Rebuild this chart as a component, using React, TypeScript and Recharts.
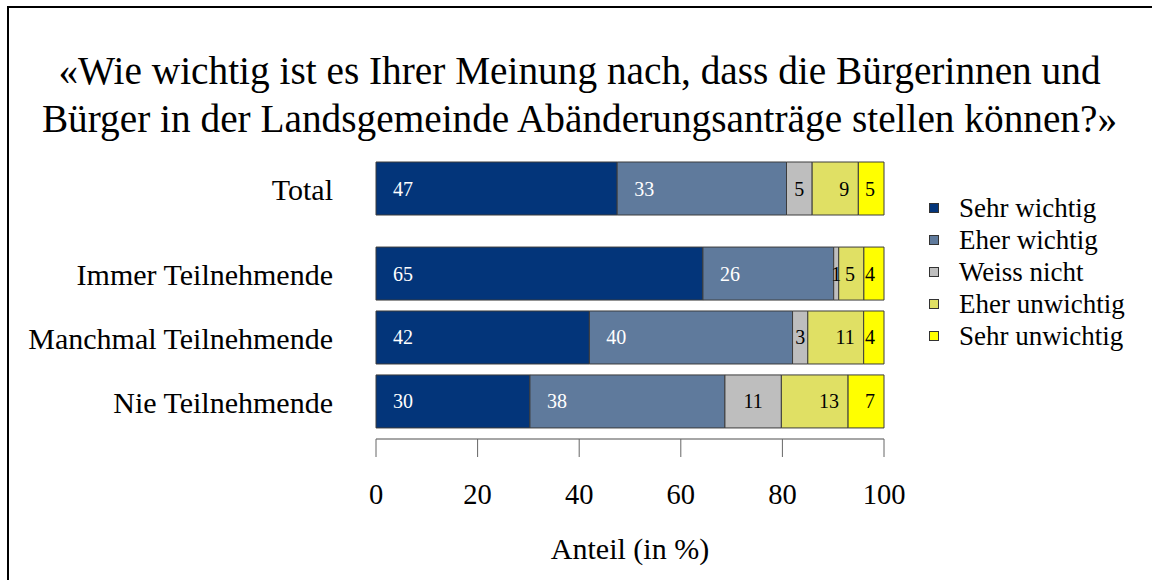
import React from 'react';
import { BarChart, Bar, XAxis, YAxis, Legend, LabelList } from 'recharts';

const FONT = '"Liberation Serif", "Times New Roman", serif';

const titleLines = [
  '«Wie wichtig ist es Ihrer Meinung nach, dass die Bürgerinnen und',
  'Bürger in der Landsgemeinde Abänderungsanträge stellen können?»',
];
const categories = ['Total', 'Immer Teilnehmende', 'Manchmal Teilnehmende', 'Nie Teilnehmende'];
const sehrWichtig = [47, 65, 42, 30];
const eherWichtig = [33, 26, 40, 38];
const weissNicht = [5, 1, 3, 11];
const eherUnwichtig = [9, 5, 11, 13];
const sehrUnwichtig = [5, 4, 4, 7];
const xTicks = [0, 20, 40, 60, 80, 100];
const xLabel = 'Anteil (in %)';

type Mode = 'start' | 'center' | 'end';
const series: { key: string; name: string; values: number[]; color: string; text: string; mode: Mode }[] = [
  { key: 'sehrWichtig', name: 'Sehr wichtig', values: sehrWichtig, color: '#03357a', text: '#ffffff', mode: 'start' },
  { key: 'eherWichtig', name: 'Eher wichtig', values: eherWichtig, color: '#5f7a9c', text: '#ffffff', mode: 'start' },
  { key: 'weissNicht', name: 'Weiss nicht', values: weissNicht, color: '#bebebe', text: '#000000', mode: 'center' },
  { key: 'eherUnwichtig', name: 'Eher unwichtig', values: eherUnwichtig, color: '#e0e064', text: '#000000', mode: 'end' },
  { key: 'sehrUnwichtig', name: 'Sehr unwichtig', values: sehrUnwichtig, color: '#ffff00', text: '#000000', mode: 'end' },
];

// layout: extra gap between "Total" and the groups
const GROUP_GAP = 0.33;
const rowPos = categories.map((_, i) => i + (i > 0 ? GROUP_GAP : 0));

const data = categories.map((c, i) => {
  const row: Record<string, number | string> = { category: c, pos: rowPos[i] };
  series.forEach((s) => {
    row[s.key] = s.values[i];
  });
  return row;
});

const makeLabel = (values: number[], mode: Mode, color: string) => (props: any) => {
  const { x, y, width, height, index } = props;
  const v = values[index];
  if (v === undefined || v === null) return null;
  let tx = x + width / 2;
  let anchor: 'start' | 'middle' | 'end' = 'middle';
  if (mode === 'start') {
    tx = x + 17;
    anchor = 'start';
  } else if (mode === 'end') {
    tx = x + width - 9;
    anchor = 'end';
  }
  return (
    <text
      x={tx}
      y={y + height / 2}
      dy="0.35em"
      textAnchor={anchor}
      fill={color}
      fontSize={20}
      fontFamily={FONT}
    >
      {v}
    </text>
  );
};

const renderLegend = () => (
  <div style={{ fontFamily: FONT, fontSize: 27, color: '#000' }}>
    {series.map((s) => (
      <div key={s.key} style={{ display: 'flex', alignItems: 'center', height: 32 }}>
        <span
          style={{
            display: 'inline-block',
            width: 10,
            height: 10,
            boxSizing: 'border-box',
            border: '1px solid #333',
            background: s.color,
            marginRight: 20,
          }}
        />
        <span style={{ whiteSpace: 'nowrap' }}>{s.name}</span>
      </div>
    ))}
  </div>
);

const catTick = (v: number) => {
  const i = rowPos.findIndex((p) => Math.abs(p - v) < 1e-6);
  return i >= 0 ? categories[i] : '';
};

export default function App() {
  return (
    <div>
      <div style={{ position: 'fixed', left: 7, top: 6, width: 1145, height: 2, background: '#000', zIndex: 5 }} />
      <div style={{ position: 'fixed', left: 7, top: 6, width: 2, height: 574, background: '#000', zIndex: 5 }} />
      <div
        style={{
          position: 'relative',
          width: 1135,
          height: 564,
          marginLeft: 1,
          background: '#fff',
        }}
      >
        <div
          style={{
            position: 'absolute',
            left: 3,
            top: 39,
            width: 1135,
            textAlign: 'center',
            fontFamily: FONT,
            fontSize: 39.3,
            lineHeight: '48px',
            color: '#000',
            zIndex: 2,
            whiteSpace: 'nowrap',
          }}
        >
          {titleLines.map((l, i) => (
            <div key={i}>{l}</div>
          ))}
        </div>
        <BarChart
          width={1135}
          height={564}
          data={data}
          layout="vertical"
          stackOffset="expand"
          margin={{ top: 149, right: 260, bottom: 0, left: 0 }}
        >
          <XAxis
            type="number"
            domain={[0, 1]}
            ticks={xTicks.map((t) => t / 100)}
            tickFormatter={(v: number) => String(Math.round(v * 100))}
            height={133}
            axisLine={{ stroke: '#888', strokeWidth: 1.5 }}
            tickLine={{ stroke: '#666' }}
            tickSize={18}
            tickMargin={27}
            tick={{ fill: '#000', fontSize: 28.5, fontFamily: FONT }}
            label={{
              value: xLabel,
              position: 'insideBottom',
              offset: 13,
              style: { fill: '#000', fontSize: 30, fontFamily: FONT },
            }}
          />
          <YAxis
            type="number"
            dataKey="pos"
            domain={[-0.5, 3.91]}
            ticks={rowPos}
            interval={0}
            tickFormatter={catTick}
            width={367}
            axisLine={false}
            tickLine={false}
            tickSize={0}
            tickMargin={43}
            tick={{ fill: '#000', fontSize: 30, fontFamily: FONT }}
          />
          <Legend
            layout="vertical"
            align="center"
            verticalAlign="middle"
            content={renderLegend}
            wrapperStyle={{ left: 920, top: 184, width: 'auto' }}
          />
          {series.map((s) => (
            <Bar
              key={s.key}
              dataKey={s.key}
              name={s.name}
              stackId="a"
              fill={s.color}
              stroke="#3c3c3c"
              strokeWidth={1}
              barSize={53}
              isAnimationActive={false}
            >
              <LabelList content={makeLabel(s.values, s.mode, s.text)} />
            </Bar>
          ))}
        </BarChart>
      </div>
    </div>
  );
}
